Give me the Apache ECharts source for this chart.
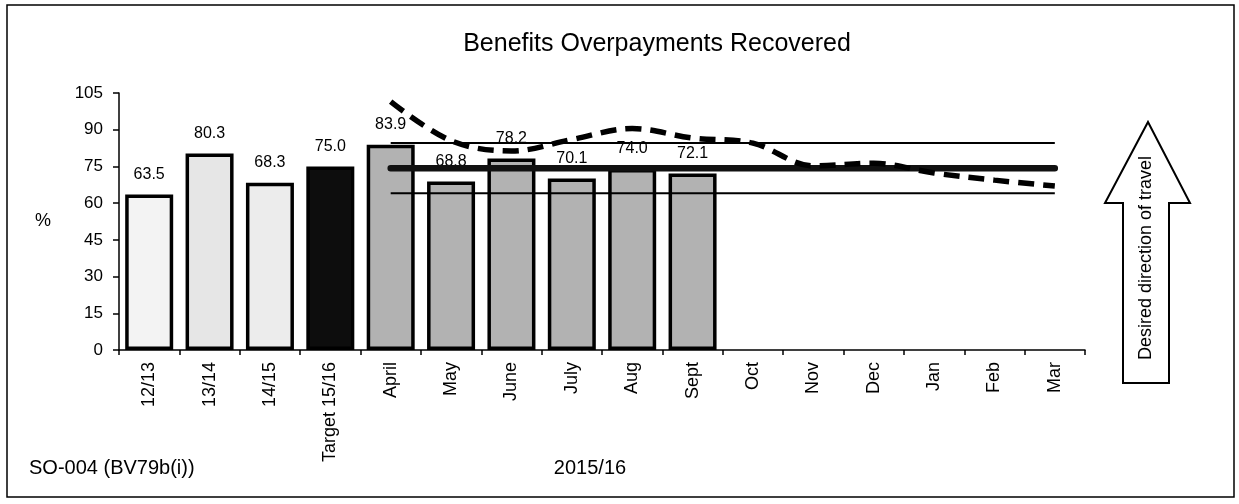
<!DOCTYPE html>
<html>
<head>
<meta charset="utf-8">
<script src="https://cdn.jsdelivr.net/npm/echarts@6/dist/echarts.min.js"></script>
<style>
html,body{margin:0;padding:0;background:#fff;}
#chart{width:1239px;height:504px;}
</style>
</head>
<body>
<div id="chart"></div>
<script>
// ---- data ----
const categories = ['12/13','13/14','14/15','Target 15/16','April','May','June','July','Aug','Sept','Oct','Nov','Dec','Jan','Feb','Mar'];
const barValues = [63.5, 80.3, 68.3, 75.0, 83.9, 68.8, 78.2, 70.1, 74.0, 72.1, null, null, null, null, null, null];
const trendValues = [null, null, null, null, 101.5, 85.5, 81.3, 86.0, 90.5, 86.6, 84.5, 75.2, 76.3, 72.3, 69.4, 67.0];
const meanValues  = [null, null, null, null, 74.3, 74.3, 74.3, 74.3, 74.3, 74.3, 74.3, 74.3, 74.3, 74.3, 74.3, 74.3];
const upperValues = [null, null, null, null, 84.6, 84.6, 84.6, 84.6, 84.6, 84.6, 84.6, 84.6, 84.6, 84.6, 84.6, 84.6];
const lowerValues = [null, null, null, null, 64.0, 64.0, 64.0, 64.0, 64.0, 64.0, 64.0, 64.0, 64.0, 64.0, 64.0, 64.0];
const yTicks = { min: 0, max: 105, interval: 15 };
const titleText = 'Benefits Overpayments Recovered';
const xName = '2015/16';
const yName = '%';
const footText = 'SO-004 (BV79b(i))';
const arrowText = 'Desired direction of travel';

// ---- styles ----
const barFills = ['#f3f3f3','#e6e6e6','#ececec','#0d0d0d','#b2b2b2','#b2b2b2','#b2b2b2','#b2b2b2','#b2b2b2','#b2b2b2'];
const FONT = 'Liberation Sans, Arial, sans-serif';

const chart = echarts.init(document.getElementById('chart'), null, {renderer:'canvas'});

const barData = barValues.map((v, i) => v == null ? null : ({
  value: v,
  itemStyle: { color: barFills[i] || '#b2b2b2' }
}));

const option = {
  backgroundColor: '#fff',
  animation: false,
  title: {
    text: titleText,
    left: 652, top: 27, textAlign: 'center',
    textStyle: { fontFamily: FONT, fontSize: 25, fontWeight: 'normal', color: '#000' }
  },
  grid: { left: 119, right: 154, top: 93, bottom: 154, containLabel: false },
  xAxis: {
    type: 'category',
    data: categories,
    axisLine: { lineStyle: { color: '#000', width: 1.5 } },
    axisTick: { show: true, alignWithLabel: false, length: 5, lineStyle: { color: '#000', width: 1.5 } },
    axisLabel: { rotate: 90, margin: 12, fontFamily: FONT, fontSize: 18, color: '#000', interval: 0 },
    splitLine: { show: false }
  },
  yAxis: {
    type: 'value',
    min: yTicks.min, max: yTicks.max, interval: yTicks.interval,
    name: yName, nameLocation: 'middle', nameRotate: 0, nameGap: 68,
    nameTextStyle: { fontFamily: FONT, fontSize: 18, color: '#000' },
    axisLine: { show: true, lineStyle: { color: '#000', width: 1.5 } },
    axisTick: { show: true, length: 6, lineStyle: { color: '#000', width: 1.5 } },
    axisLabel: { margin: 16, fontFamily: FONT, fontSize: 17, color: '#000' },
    splitLine: { show: false }
  },
  series: [
    {
      type: 'bar',
      data: barData,
      barWidth: 48,
      z: 2,
      itemStyle: { borderColor: '#000', borderWidth: 3.5 },
      label: {
        show: true, position: 'top', distance: 12,
        fontFamily: FONT, fontSize: 16, color: '#000',
        formatter: p => (p.value == null ? '' : Number(p.value).toFixed(1))
      }
    },
    {
      type: 'line', data: upperValues, z: 3, symbol: 'none',
      lineStyle: { color: '#000', width: 2 }
    },
    {
      type: 'line', data: lowerValues, z: 3, symbol: 'none',
      lineStyle: { color: '#000', width: 2 }
    },
    {
      type: 'line', data: meanValues, z: 4, symbol: 'none',
      lineStyle: { color: '#111', width: 6.5, cap: 'round' }
    },
    {
      type: 'line', data: trendValues, z: 5, symbol: 'none', smooth: 0.35,
      lineStyle: { color: '#000', width: 5.5, type: [16, 9] }
    }
  ],
  graphic: [
    {
      type: 'rect', silent: true, z: 0,
      shape: { x: 7, y: 5, width: 1227, height: 492 },
      style: { fill: 'none', stroke: '#000', lineWidth: 1.5 }
    },
    {
      type: 'polygon', silent: true, z: 10,
      shape: { points: [[1148,122],[1190,203],[1169,203],[1169,383],[1123,383],[1123,203],[1105,203]] },
      style: { fill: '#fff', stroke: '#000', lineWidth: 2 }
    },
    {
      type: 'text', silent: true, z: 11,
      x: 1146, y: 258, rotation: Math.PI / 2,
      style: { text: arrowText, fontFamily: FONT, fontSize: 18, fill: '#000', align: 'center', verticalAlign: 'middle' }
    },
    {
      type: 'text', silent: true, z: 11,
      x: 29, y: 468,
      style: { text: footText, fontFamily: FONT, fontSize: 20, fill: '#000', align: 'left', verticalAlign: 'middle' }
    },
    {
      type: 'text', silent: true, z: 11,
      x: 590, y: 468,
      style: { text: xName, fontFamily: FONT, fontSize: 20, fill: '#000', align: 'center', verticalAlign: 'middle' }
    }
  ]
};

chart.setOption(option);
</script>
</body>
</html>
